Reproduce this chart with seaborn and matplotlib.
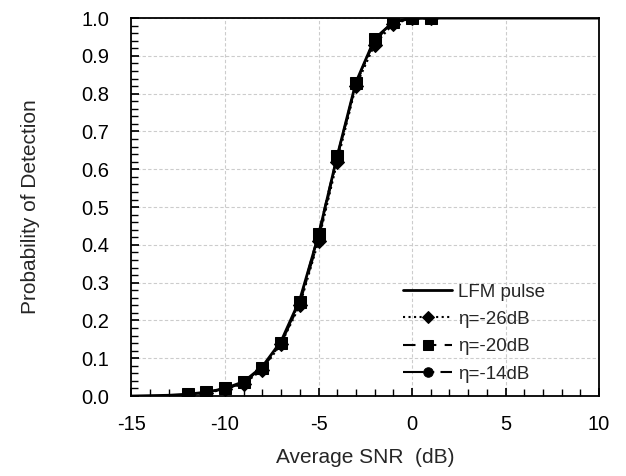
import matplotlib
matplotlib.use("Agg")
import matplotlib.pyplot as plt
from matplotlib.ticker import MultipleLocator, FormatStrFormatter
import seaborn as sns

# reference curve (LFM pulse), read at integer SNR points
snr_line = [-15, -14, -13, -12, -11, -10, -9, -8, -7, -6, -5, -4, -3, -2, -1,
            0, 1, 2, 3, 4, 5, 6, 7, 8, 9, 10]
pd_line = [0.0, 0.001, 0.002, 0.005, 0.01, 0.02, 0.038, 0.078, 0.145, 0.255,
           0.425, 0.635, 0.83, 0.945, 0.99, 0.999, 1.0, 1.0, 1.0, 1.0, 1.0,
           1.0, 1.0, 1.0, 1.0, 1.0]

# simulated points for three eta values
snr_pts = [-12, -11, -10, -9, -8, -7, -6, -5, -4, -3, -2, -1, 0, 1]
pd_26 = [0.003, 0.008, 0.018, 0.032, 0.07, 0.138, 0.24, 0.41, 0.62, 0.82,
         0.93, 0.985, 0.999, 1.0]
pd_20 = [0.005, 0.01, 0.02, 0.036, 0.075, 0.14, 0.25, 0.43, 0.635, 0.828,
         0.945, 0.99, 1.0, 1.0]
pd_14 = [0.004, 0.009, 0.019, 0.034, 0.073, 0.14, 0.245, 0.415, 0.63, 0.825,
         0.94, 0.988, 1.0, 1.0]

sns.set_theme(style="white")
plt.rcParams["font.family"] = ["Liberation Sans", "DejaVu Sans"]
plt.rcParams["axes.unicode_minus"] = False

fig, ax = plt.subplots(figsize=(6.26, 4.76), dpi=100)

sns.lineplot(x=snr_line, y=pd_line, ax=ax, color="black", lw=2,
             label="LFM pulse")

series = [
    ("η=-26dB", pd_26, "D", ":", 7),
    ("η=-20dB", pd_20, "s", (0, (6, 4)), 8),
    ("η=-14dB", pd_14, "o", (0, (10, 3, 2, 3)), 8),
]
for name, vals, mk, ls, ms in series:
    sns.lineplot(x=snr_pts, y=vals, ax=ax, color="black", lw=1.5,
                 linestyle=ls, marker=mk, markersize=ms,
                 markeredgecolor="black", markerfacecolor="black", label=name)

ax.set_xlim(-15, 10)
ax.set_ylim(0, 1.0)
ax.xaxis.set_major_locator(MultipleLocator(5))
ax.xaxis.set_minor_locator(MultipleLocator(1))
ax.yaxis.set_major_locator(MultipleLocator(0.1))
ax.yaxis.set_minor_locator(MultipleLocator(0.02))
ax.yaxis.set_major_formatter(FormatStrFormatter("%.1f"))

ax.grid(True, which="major", color="#cccccc", linestyle=(0, (3, 2)), lw=0.8)
ax.tick_params(which="both", direction="in", bottom=True, left=True,
               labelsize=14.5, colors="black")
ax.tick_params(which="major", length=6)
ax.tick_params(which="minor", length=5)
ax.tick_params(axis="y", which="major", pad=16)
ax.tick_params(axis="x", which="major", pad=14)
for sp in ax.spines.values():
    sp.set_color("black")
    sp.set_linewidth(1.3)

ax.set_xlabel("Average SNR  (dB)", fontsize=15, labelpad=10)
ax.set_ylabel("Probability of Detection", fontsize=15, labelpad=30)

ax.legend(loc="lower right", frameon=False, fontsize=13.5,
          handlelength=2.6, handletextpad=0.3, labelspacing=0.55,
          bbox_to_anchor=(0.92, -0.01), markerscale=0.85)

fig.subplots_adjust(left=0.21, right=0.957, bottom=0.168, top=0.962)
fig.savefig("out.png", dpi=100)
